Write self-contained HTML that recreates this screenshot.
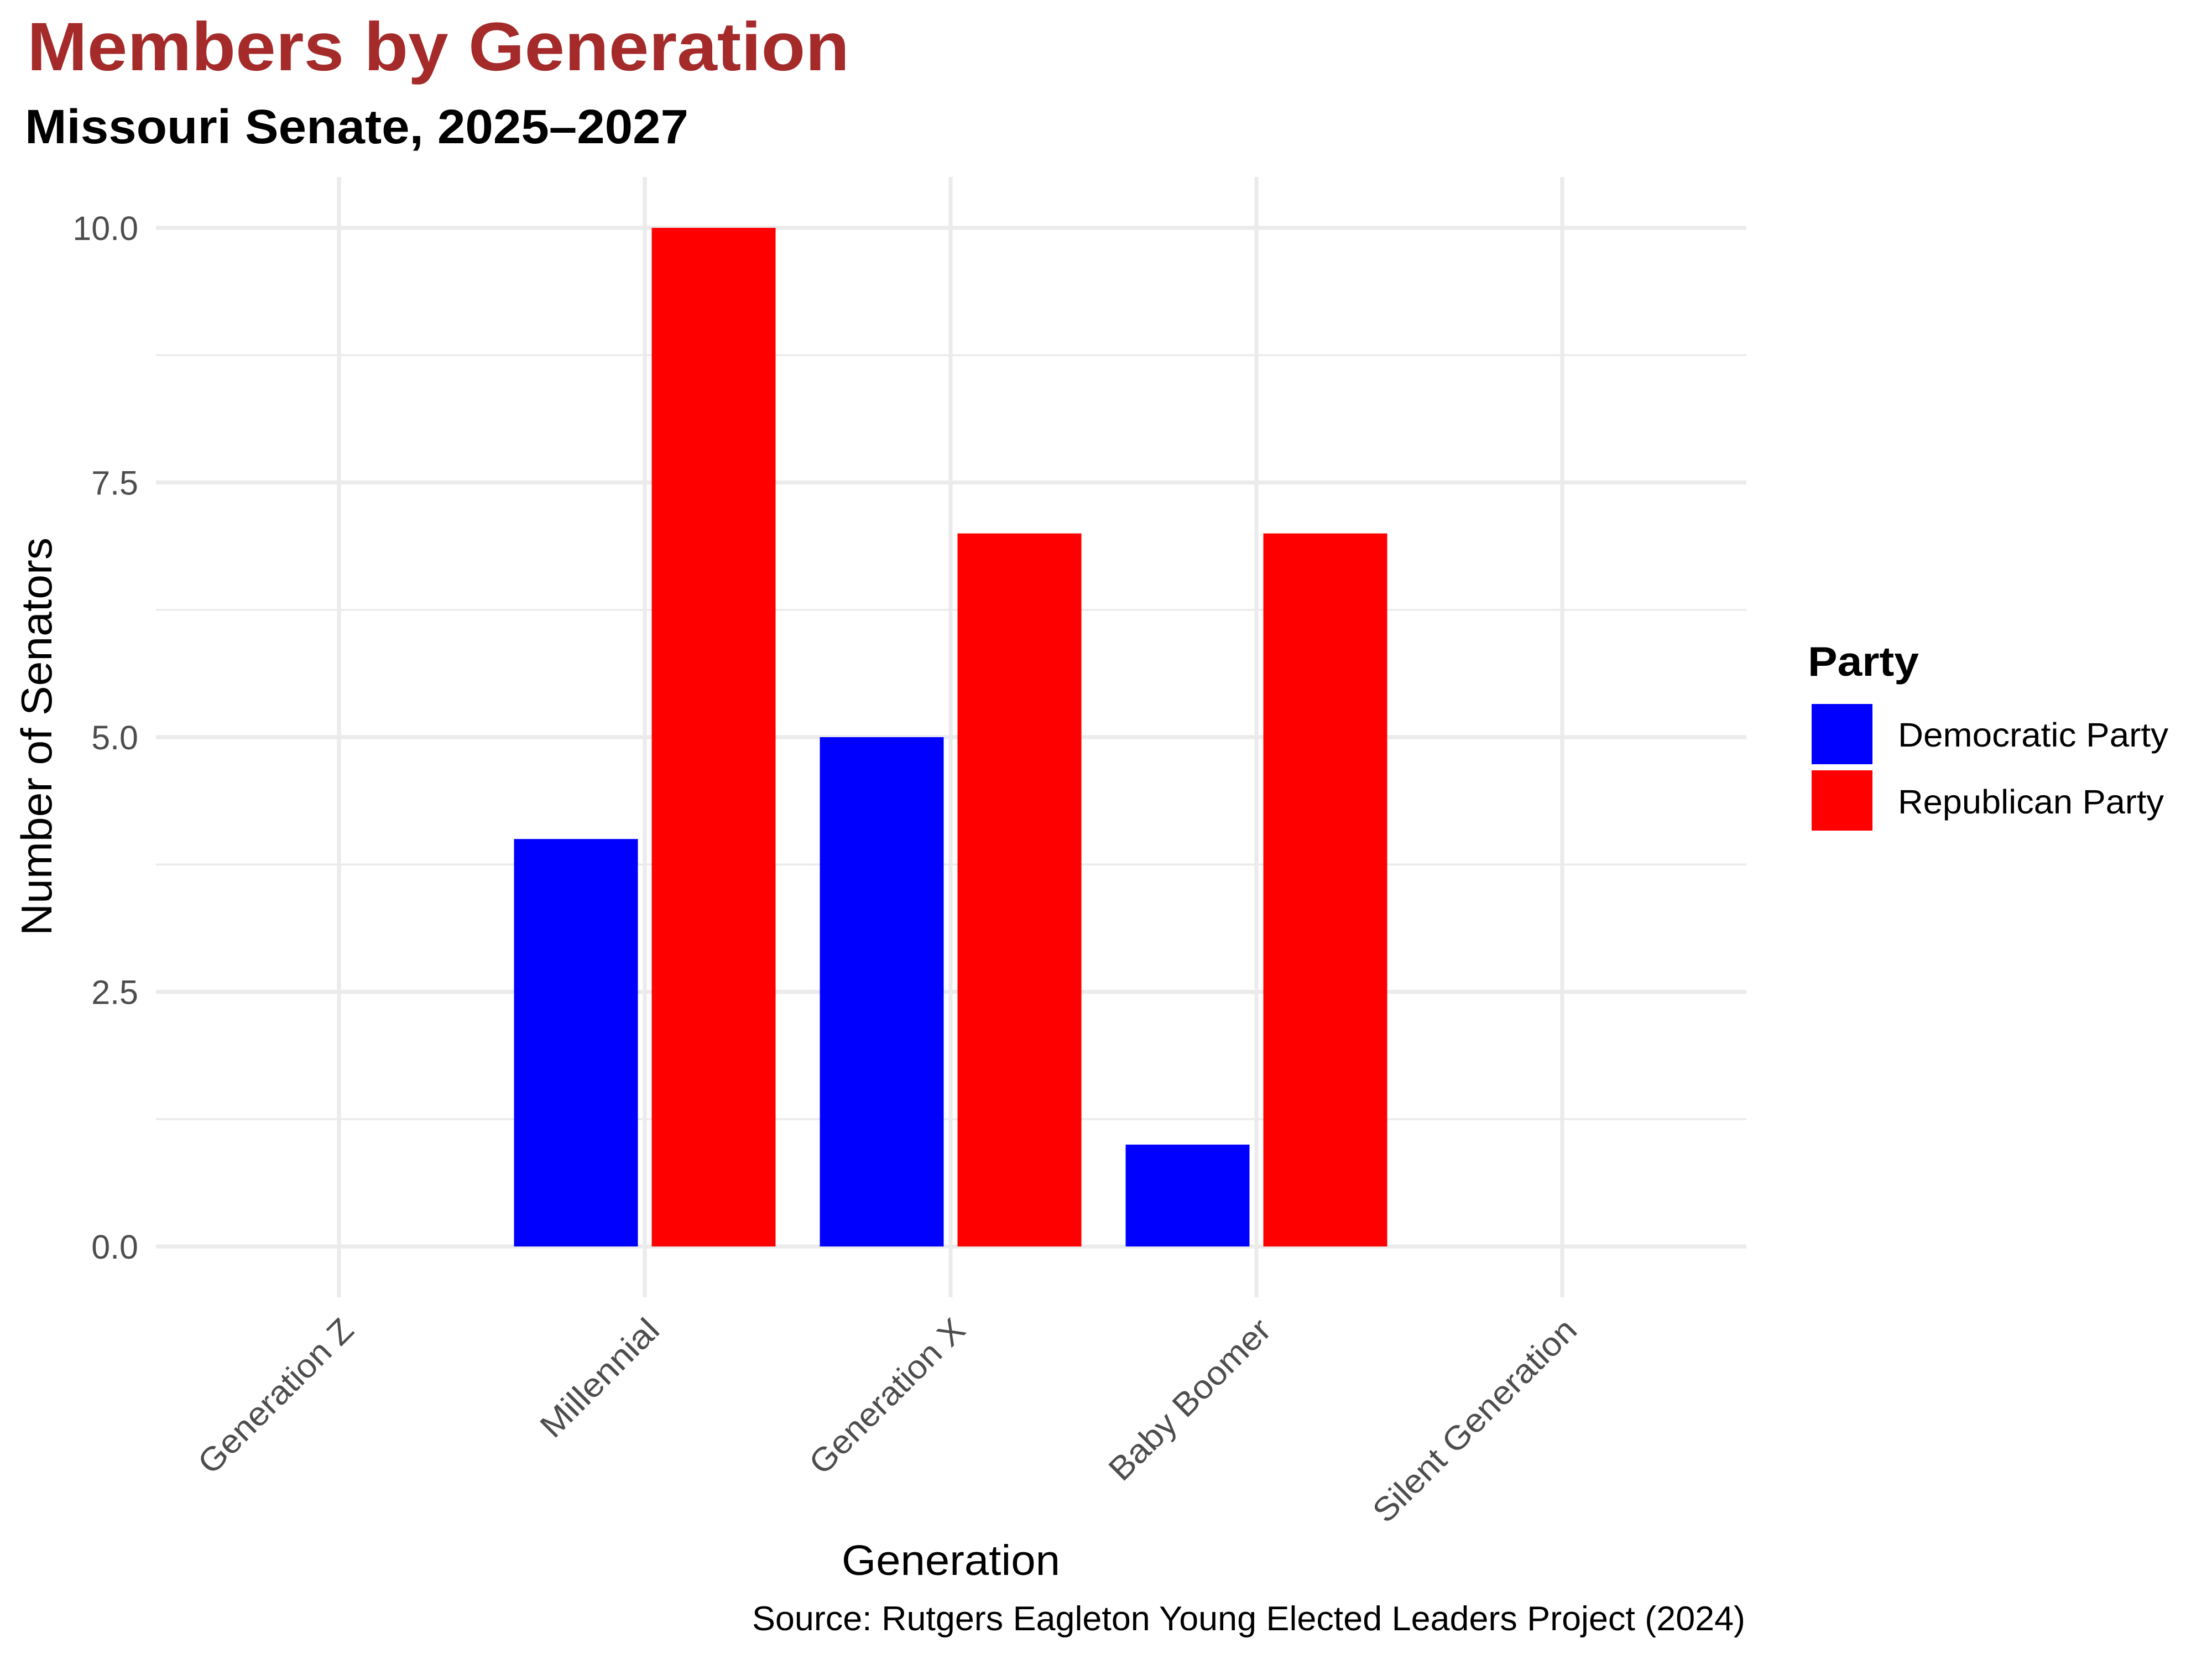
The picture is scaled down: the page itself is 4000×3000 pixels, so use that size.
<!DOCTYPE html>
<html>
<head>
<meta charset="utf-8">
<style>
  html, body { margin:0; padding:0; background:#ffffff; }
  svg { display:block; }
  text { font-family: "Liberation Sans", "DejaVu Sans", sans-serif; }
</style>
</head>
<body>
<svg xmlns="http://www.w3.org/2000/svg" width="4000" height="3000" viewBox="0 0 4000 3000">
  <rect x="0" y="0" width="4000" height="3000" fill="#ffffff"/>

  <!-- Titles -->
  <text x="49" y="127" font-size="124" font-weight="bold" fill="#A52A2A" textLength="1487" lengthAdjust="spacingAndGlyphs">Members by Generation</text>
  <text x="45" y="259" font-size="87" font-weight="bold" fill="#000000" textLength="1200" lengthAdjust="spacingAndGlyphs">Missouri Senate, 2025–2027</text>

  <!-- Minor horizontal gridlines -->
  <g stroke="#EBEBEB" stroke-width="3.6">
    <line x1="282" y1="642.25" x2="3158" y2="642.25"/>
    <line x1="282" y1="1102.75" x2="3158" y2="1102.75"/>
    <line x1="282" y1="1563.25" x2="3158" y2="1563.25"/>
    <line x1="282" y1="2023.75" x2="3158" y2="2023.75"/>
  </g>
  <!-- Major horizontal gridlines -->
  <g stroke="#EBEBEB" stroke-width="7.2">
    <line x1="282" y1="412" x2="3158" y2="412"/>
    <line x1="282" y1="872.5" x2="3158" y2="872.5"/>
    <line x1="282" y1="1333" x2="3158" y2="1333"/>
    <line x1="282" y1="1793.5" x2="3158" y2="1793.5"/>
    <line x1="282" y1="2254" x2="3158" y2="2254"/>
  </g>
  <!-- Vertical gridlines -->
  <g stroke="#EBEBEB" stroke-width="7.2">
    <line x1="613" y1="320" x2="613" y2="2346"/>
    <line x1="1166" y1="320" x2="1166" y2="2346"/>
    <line x1="1719" y1="320" x2="1719" y2="2346"/>
    <line x1="2272" y1="320" x2="2272" y2="2346"/>
    <line x1="2825" y1="320" x2="2825" y2="2346"/>
  </g>

  <!-- Bars -->
  <rect x="929.5" y="1517.2" width="224" height="736.8" fill="#0000FF"/>
  <rect x="1178.5" y="412" width="224" height="1842" fill="#FF0000"/>
  <rect x="1482.5" y="1333" width="224" height="921" fill="#0000FF"/>
  <rect x="1731.5" y="964.6" width="224" height="1289.4" fill="#FF0000"/>
  <rect x="2035.5" y="2069.8" width="224" height="184.2" fill="#0000FF"/>
  <rect x="2284.5" y="964.6" width="224" height="1289.4" fill="#FF0000"/>

  <!-- Y tick labels -->
  <g font-size="61" fill="#4D4D4D" text-anchor="end">
    <text x="250" y="434">10.0</text>
    <text x="250" y="894.5">7.5</text>
    <text x="250" y="1355">5.0</text>
    <text x="250" y="1815.5">2.5</text>
    <text x="250" y="2276">0.0</text>
  </g>

  <!-- X tick labels (rotated 45°) -->
  <g font-size="60" fill="#4D4D4D">
    <text x="382.8" y="2669.2" transform="rotate(-45 382.8 2669.2)" textLength="368" lengthAdjust="spacingAndGlyphs">Generation Z</text>
    <text x="1001.5" y="2603.5" transform="rotate(-45 1001.5 2603.5)" textLength="275" lengthAdjust="spacingAndGlyphs">Millennial</text>
    <text x="1488.1" y="2669.9" transform="rotate(-45 1488.1 2669.9)" textLength="369" lengthAdjust="spacingAndGlyphs">Generation X</text>
    <text x="2029.8" y="2681.2" transform="rotate(-45 2029.8 2681.2)" textLength="385" lengthAdjust="spacingAndGlyphs">Baby Boomer</text>
    <text x="2507.1" y="2756.9" transform="rotate(-45 2507.1 2756.9)" textLength="492" lengthAdjust="spacingAndGlyphs">Silent Generation</text>
  </g>

  <!-- Axis titles -->
  <text x="1522" y="2848" font-size="77" fill="#000000" textLength="395" lengthAdjust="spacingAndGlyphs">Generation</text>
  <text x="93" y="1692" font-size="78" fill="#000000" transform="rotate(-90 93 1692)" textLength="720" lengthAdjust="spacingAndGlyphs">Number of Senators</text>

  <!-- Caption -->
  <text x="1360" y="2948" font-size="62" fill="#000000" textLength="1796" lengthAdjust="spacingAndGlyphs">Source: Rutgers Eagleton Young Elected Leaders Project (2024)</text>

  <!-- Legend -->
  <text x="3269" y="1222" font-size="75" font-weight="bold" fill="#000000" textLength="201" lengthAdjust="spacingAndGlyphs">Party</text>
  <rect x="3276" y="1273" width="110" height="109" fill="#0000FF"/>
  <rect x="3276" y="1393" width="110" height="109" fill="#FF0000"/>
  <text x="3432" y="1350" font-size="61" fill="#000000" textLength="489" lengthAdjust="spacingAndGlyphs">Democratic Party</text>
  <text x="3432" y="1471" font-size="61" fill="#000000" textLength="481" lengthAdjust="spacingAndGlyphs">Republican Party</text>
</svg>
</body>
</html>
